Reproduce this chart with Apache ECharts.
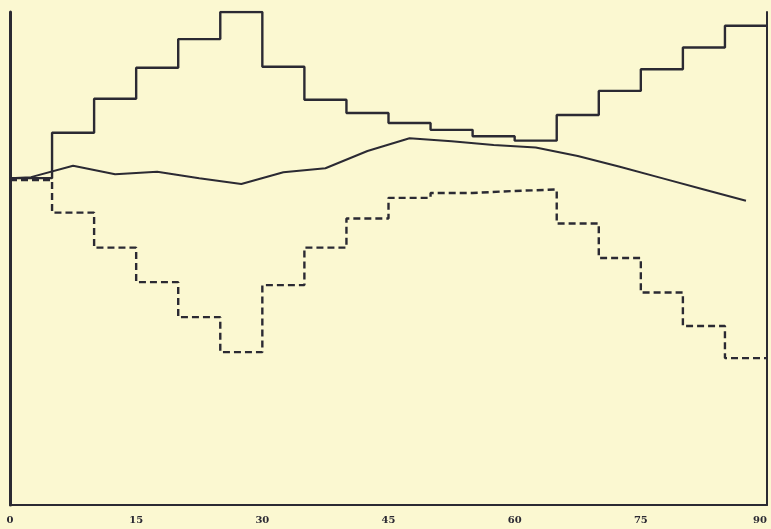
<!DOCTYPE html>
<html>
<head>
<meta charset="utf-8">
<script src="https://cdn.jsdelivr.net/npm/echarts@6/dist/echarts.min.js"></script>
<style>
  html, body { margin: 0; padding: 0; background: #fbf8d1; }
  #chart { width: 771px; height: 529px; }
</style>
</head>
<body>
<div id="chart"></div>
<script>
// step boundaries every 5 units, the last point closes the final step
const stepX = [0, 5, 10, 15, 20, 25, 30, 35, 40, 45, 50, 55, 60, 65, 70, 75, 80, 85, 90];
const upperSteps = [66.3, 75.5, 82.4, 88.7, 94.5, 100, 88.9, 82.2, 79.5, 77.5, 76.1, 74.8, 73.9, 79.1, 84.0, 88.4, 92.8, 97.2, 97.2];
const lowerSteps = [65.9, 59.3, 52.2, 45.2, 38.1, 31.0, 44.6, 52.2, 58.1, 62.3, 63.3, 63.7, 64.0, 57.1, 50.1, 43.1, 36.3, 29.8, 29.8];

// middle curve, read at the middle of each step
const curveX = [0, 2.5, 7.5, 12.5, 17.5, 22.5, 27.5, 32.5, 37.5, 42.5, 47.5, 52.5, 57.5, 62.5, 67.5, 72.5, 77.5, 82.5, 87.5];
const curveY = [66.3, 66.5, 68.8, 67.1, 67.6, 66.3, 65.1, 67.5, 68.3, 71.8, 74.4, 73.8, 73.0, 72.5, 70.8, 68.6, 66.3, 64.0, 61.7];

const xTicks = [0, 15, 30, 45, 60, 75, 90];

const ink = '#2b2a33';
const zip = (xs, ys) => xs.map((x, i) => [x, ys[i]]);

const chart = echarts.init(document.getElementById('chart'));
chart.setOption({
  backgroundColor: '#fbf8d1',
  animation: false,
  grid: { left: 10, right: 4, top: 12, bottom: 24 },
  xAxis: {
    type: 'value',
    min: 0,
    max: 90,
    interval: 15,
    axisLine: { show: true, onZero: false, lineStyle: { color: ink, width: 2 } },
    axisTick: { show: false },
    splitLine: { show: false },
    axisLabel: {
      margin: 10,
      color: ink,
      fontFamily: 'DejaVu Serif',
      fontWeight: 'bold',
      fontSize: 10,
      alignMaxLabel: 'right',
      formatter: v => (xTicks.includes(v) ? String(v) : '')
    }
  },
  yAxis: [
    {
      type: 'value',
      min: 0,
      max: 100,
      axisLine: { show: true, lineStyle: { color: ink, width: 3 } },
      axisTick: { show: false },
      axisLabel: { show: false },
      splitLine: { show: false }
    },
    {
      type: 'value',
      position: 'right',
      min: 0,
      max: 100,
      axisLine: { show: true, lineStyle: { color: ink, width: 2 } },
      axisTick: { show: false },
      axisLabel: { show: false },
      splitLine: { show: false }
    }
  ],
  series: [
    {
      name: 'upper',
      type: 'line',
      step: 'end',
      symbol: 'none',
      data: zip(stepX, upperSteps),
      lineStyle: { color: ink, width: 2.4 }
    },
    {
      name: 'lower',
      type: 'line',
      step: 'end',
      symbol: 'none',
      data: zip(stepX, lowerSteps),
      lineStyle: { color: ink, width: 2.4, type: [7, 4] }
    },
    {
      name: 'curve',
      type: 'line',
      symbol: 'none',
      data: zip(curveX, curveY),
      lineStyle: { color: ink, width: 2 }
    }
  ]
});
</script>
</body>
</html>
